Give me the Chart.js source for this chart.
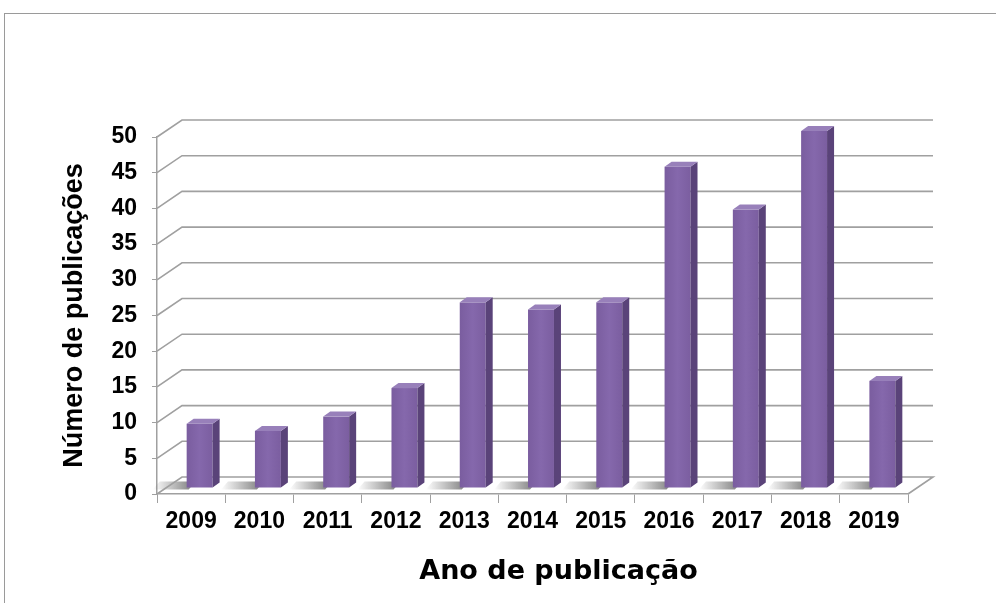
<!DOCTYPE html>
<html>
<head>
<meta charset="utf-8">
<script src="https://cdn.jsdelivr.net/npm/chart.js@4.4.0/dist/chart.umd.min.js"></script>
<style>
body{margin:0;background:#fff;overflow:hidden}
#wrap{position:relative;width:996px;height:603px;overflow:hidden}
#frame{position:absolute;left:4px;top:13px;width:1100px;height:700px;border:1px solid #9a9a9a}
canvas{position:absolute;left:0;top:0}
</style>
</head>
<body>
<div id="wrap">
<div id="frame"></div>
<canvas id="myChart" width="996" height="603"></canvas>
</div>
<script>
// dados
const anos = ['2009', '2010', '2011', '2012', '2013', '2014', '2015', '2016', '2017', '2018', '2019'];
const publicacoes = [9, 8, 10, 14, 26, 25, 26, 45, 39, 50, 15];
const yTicks = [0, 5, 10, 15, 20, 25, 30, 35, 40, 45, 50];
const tituloY = 'Número de publicações';
const tituloX = 'Ano de publicação';

// efeito 3D (estilo Excel)
const piso = {dx: 25, dy: 17};
const barra = {fx: 8.5, fy: 6, sx: 7, sy: 5};
const corLinha = '#a0a0a0';

const efeito3d = {
  id: 'efeito3d',
  beforeDatasetsDraw(chart) {
    const ctx = chart.ctx, a = chart.chartArea, sy = chart.scales.y;
    ctx.save();
    // sombras no piso
    chart.getDatasetMeta(0).data.forEach(el => {
      const x0 = el.x - el.width / 2 + barra.fx;
      const yb = el.base - barra.fy;
      const g = ctx.createLinearGradient(x0 - 34, 0, x0 + 2, 0);
      g.addColorStop(0, 'rgba(80,80,80,0)');
      g.addColorStop(1, 'rgba(80,80,80,0.65)');
      ctx.fillStyle = g;
      ctx.beginPath();
      ctx.moveTo(x0 - 34, yb + 2);
      ctx.lineTo(x0 + 2, yb + 2);
      ctx.lineTo(x0 + 2 + barra.sx, yb - barra.sy - 1);
      ctx.lineTo(x0 - 34 + barra.sx, yb - barra.sy - 1);
      ctx.closePath();
      ctx.fill();
    });
    // linhas de grade na parede do fundo
    ctx.strokeStyle = corLinha;
    ctx.lineWidth = 1.6;
    sy.ticks.forEach(t => {
      const py = sy.getPixelForValue(t.value);
      ctx.beginPath();
      ctx.moveTo(a.left, py);
      ctx.lineTo(a.left + piso.dx, py - piso.dy);
      ctx.lineTo(a.right + piso.dx, py - piso.dy);
      if (t.value === 0) ctx.lineTo(a.right, py);
      ctx.stroke();
    });
    ctx.restore();
  },
  afterDatasetsDraw(chart) {
    const ctx = chart.ctx;
    ctx.save();
    chart.getDatasetMeta(0).data.forEach(el => {
      const w = el.width;
      const x0 = el.x - w / 2 + barra.fx, x1 = x0 + w;
      const yt = el.y - barra.fy, yb = el.base - barra.fy;
      const g = ctx.createLinearGradient(x0, 0, x1, 0);
      g.addColorStop(0, '#7a5d9f');
      g.addColorStop(0.5, '#8568ac');
      g.addColorStop(1, '#7b5ea0');
      ctx.fillStyle = g;
      ctx.fillRect(x0, yt, w, yb - yt);
      ctx.fillStyle = '#5a4379';
      ctx.beginPath();
      ctx.moveTo(x1, yt);
      ctx.lineTo(x1 + barra.sx, yt - barra.sy);
      ctx.lineTo(x1 + barra.sx, yb - barra.sy);
      ctx.lineTo(x1, yb);
      ctx.closePath();
      ctx.fill();
      ctx.fillStyle = '#9880ba';
      ctx.beginPath();
      ctx.moveTo(x0, yt);
      ctx.lineTo(x0 + barra.sx, yt - barra.sy);
      ctx.lineTo(x1 + barra.sx, yt - barra.sy);
      ctx.lineTo(x1, yt);
      ctx.closePath();
      ctx.fill();
    });
    ctx.restore();
  },
  afterDraw(chart) {
    const ctx = chart.ctx, a = chart.chartArea;
    ctx.save();
    ctx.fillStyle = '#000';
    ctx.font = 'bold 27px "DejaVu Sans"';
    ctx.textAlign = 'center';
    ctx.textBaseline = 'middle';
    ctx.fillText(tituloX, (a.left + a.right) / 2 + 26, 572);
    ctx.restore();
  }
};

const fonte = {family: '"Liberation Sans", Arial, sans-serif', weight: 'bold', size: 23};

new Chart(document.getElementById('myChart'), {
  type: 'bar',
  data: {
    labels: anos,
    datasets: [{
      label: tituloY,
      data: publicacoes,
      backgroundColor: 'rgba(0,0,0,0)',
      borderWidth: 0,
      barPercentage: 0.38,
      categoryPercentage: 1
    }]
  },
  options: {
    responsive: false,
    animation: false,
    devicePixelRatio: 1,
    layout: {padding: {left: 0, top: 137, right: 88, bottom: 0}},
    plugins: {legend: {display: false}, tooltip: {enabled: false}},
    scales: {
      x: {
        grid: {drawOnChartArea: false, tickLength: 9, color: corLinha, offset: true},
        border: {color: corLinha, width: 1.5},
        ticks: {color: '#000', font: fonte, padding: 5, maxRotation: 0},
        afterFit: s => { s.height = 109; }
      },
      y: {
        min: 0,
        max: 50,
        afterBuildTicks: s => { s.ticks = yTicks.map(v => ({value: v})); },
        grid: {drawOnChartArea: false, tickLength: 5, color: corLinha},
        border: {color: corLinha, width: 1.5},
        ticks: {color: '#000', font: fonte, padding: 15},
        title: {display: true, text: tituloY, color: '#000',
          font: {family: '"Liberation Sans", Arial, sans-serif', weight: 'bold', size: 27},
          padding: {top: 58, bottom: 0}},
        afterFit: s => { s.width = 157; }
      }
    }
  },
  plugins: [efeito3d]
});
</script>
</body>
</html>
